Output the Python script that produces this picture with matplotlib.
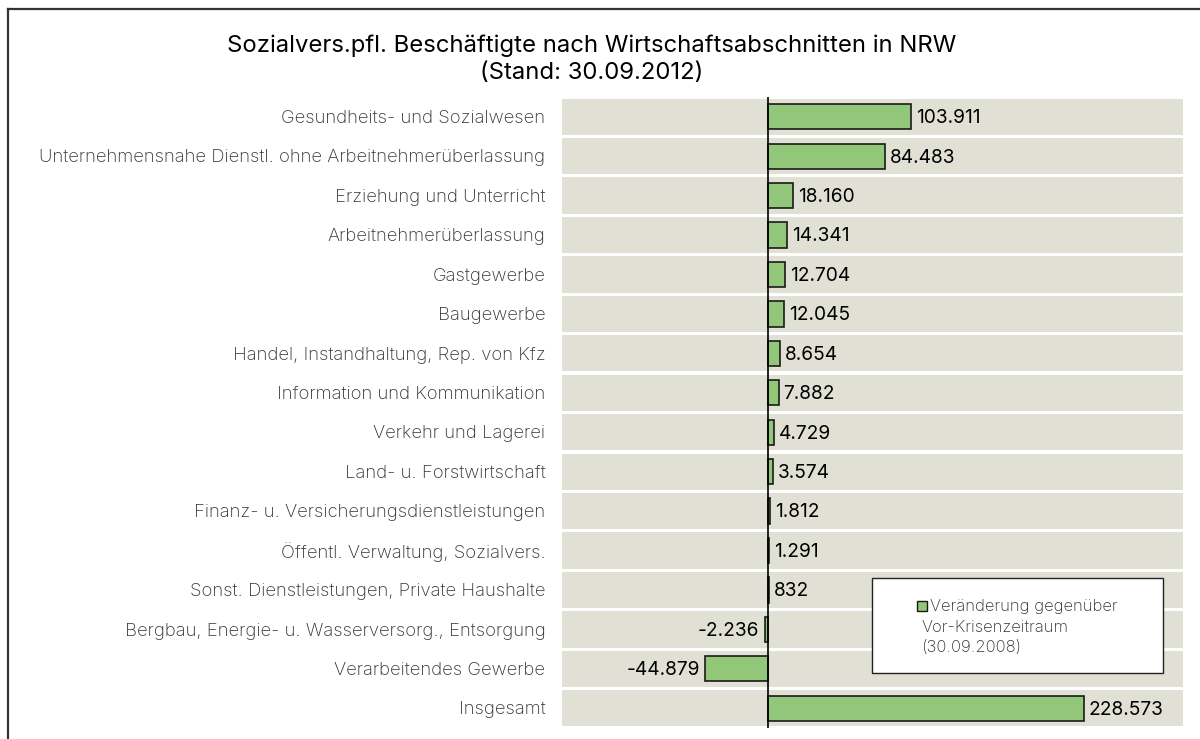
import matplotlib
matplotlib.use("Agg")
import matplotlib.pyplot as plt
from matplotlib.patches import Rectangle
from matplotlib.lines import Line2D

categories = [
    "Gesundheits- und Sozialwesen",
    "Unternehmensnahe Dienstl. ohne Arbeitnehmerüberlassung",
    "Erziehung und Unterricht",
    "Arbeitnehmerüberlassung",
    "Gastgewerbe",
    "Baugewerbe",
    "Handel, Instandhaltung, Rep. von Kfz",
    "Information und Kommunikation",
    "Verkehr und Lagerei",
    "Land- u. Forstwirtschaft",
    "Finanz- u. Versicherungsdienstleistungen",
    "Öffentl. Verwaltung, Sozialvers.",
    "Sonst. Dienstleistungen, Private Haushalte",
    "Bergbau, Energie- u. Wasserversorg., Entsorgung",
    "Verarbeitendes Gewerbe",
    "Insgesamt",
]
values = [103911, 84483, 18160, 14341, 12704, 12045, 8654, 7882, 4729,
          3574, 1812, 1291, 832, -2236, -44879, 228573]

title = "Sozialvers.pfl. Beschäftigte nach Wirtschaftsabschnitten in NRW\n(Stand: 30.09.2012)"
legend_lines = ["Veränderung gegenüber", "Vor-Krisenzeitraum", "(30.09.2008)"]

FONT = ["Inter", "DejaVu Sans"]
plt.rcParams['font.family'] = FONT

W, H = 1200, 739
fig = plt.figure(figsize=(W / 100, H / 100), dpi=100)

def fx(px):
    return px / W

def fy(py):
    return 1 - py / H

# frame lines (left and top)
fig.add_artist(Line2D([fx(8), fx(8)], [fy(9), fy(739)], color="#333333", lw=1.6))
fig.add_artist(Line2D([fx(8), fx(1200)], [fy(9), fy(9)], color="#333333", lw=1.6))

ax_l, ax_r, ax_t, ax_b = 562, 1183, 97, 728
ax = fig.add_axes([fx(ax_l), fy(ax_b), fx(ax_r - ax_l), (ax_b - ax_t) / H])
ax.set_xlim(-148500, 300000)
n = len(categories)
ax.set_ylim(n - 0.5, -0.5)
for s in ax.spines.values():
    s.set_visible(False)
ax.set_xticks([])
ax.set_yticks([])

ypos = list(range(n))
# background bands
for y in ypos:
    ax.axhspan(y - 0.46, y + 0.46, color="#E0E0D4", lw=0, zorder=0)

ax.barh(ypos, values, height=0.64, color="#92C678", edgecolor="#1a1a1a",
        linewidth=1.2, zorder=2)
ax.axvline(0, color="black", lw=1.2, zorder=3)

def fmt(v):
    s = f"{abs(v):,}".replace(",", ".")
    return ("-" if v < 0 else "") + s

for y, v in zip(ypos, values):
    if v >= 0:
        ax.annotate(fmt(v), (v, y), xytext=(3.5, -1), textcoords="offset points",
                    ha="left", va="center", fontsize=13.8, color="black", zorder=4)
    else:
        ax.annotate(fmt(v), (v, y), xytext=(-4, -1), textcoords="offset points",
                    ha="right", va="center", fontsize=13.8, color="black", zorder=4)

# category labels
for y, c in zip(ypos, categories):
    ax.annotate(c, (0, y), xycoords=("axes fraction", "data"), xytext=(-12, -1.2),
                textcoords="offset points", ha="right", va="center",
                fontsize=13.3, color="#333333", fontweight="light")

# title
fig.text(fx(592), fy(59), title, ha="center", va="center", fontsize=17.2,
         color="black", linespacing=1.3)

# legend box
lx0, ly0, lx1, ly1 = 872, 578, 1163, 673
fig.add_artist(Rectangle((fx(lx0), fy(ly1)), fx(lx1 - lx0), (ly1 - ly0) / H,
                         facecolor="white", edgecolor="#222222", lw=1.0,
                         transform=fig.transFigure, zorder=5))
fig.add_artist(Rectangle((fx(917), fy(611)), fx(10), 10 / H,
                         facecolor="#92C678", edgecolor="#1a1a1a", lw=1.0,
                         transform=fig.transFigure, zorder=6))
fig.text(fx(930), fy(607), legend_lines[0], ha="left", va="center",
         fontsize=12, color="#333333", fontweight="light", zorder=7)
fig.text(fx(921), fy(627), legend_lines[1], ha="left", va="center",
         fontsize=12, color="#333333", fontweight="light", zorder=7)
fig.text(fx(921), fy(647), legend_lines[2], ha="left", va="center",
         fontsize=12, color="#333333", fontweight="light", zorder=7)

fig.savefig("out.png", dpi=100)
